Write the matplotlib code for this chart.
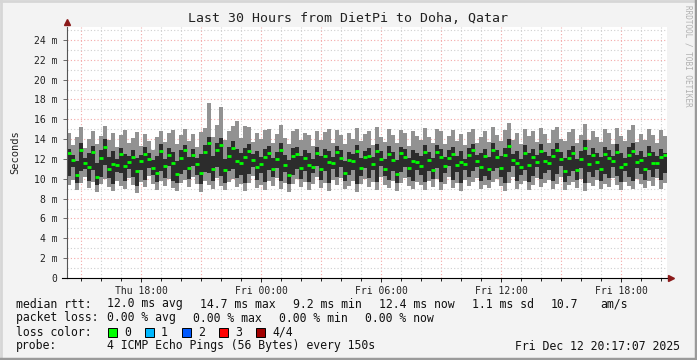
import matplotlib
matplotlib.use("Agg")
import matplotlib.pyplot as plt
from matplotlib.patches import Rectangle

# SmokePing: 30 h window, one column per 12 min, values in ms
t_start = 14 + 17 / 60 + 7 / 3600  # Thu 14:17:07, hours since Thu 00:00
step_h = 0.2

rtt_max = [
    14.6, 13.4, 14.2, 15.2, 13.1, 14.0, 14.8, 13.5, 14.3, 15.3, 13.9, 14.6, 13.2, 14.4, 14.9,
    13.6, 14.1, 14.7, 13.3, 14.5, 13.8, 12.9, 14.2, 14.8, 13.7, 14.6, 14.9, 13.5, 14.4, 15.0,
    13.8, 14.5, 13.2, 14.7, 15.1, 17.6, 14.2, 15.4, 17.2, 13.9, 14.8, 15.3, 15.8, 14.1, 15.3,
    15.2, 13.7, 14.6, 14.0, 14.9, 15.0, 13.6, 14.5, 15.4, 14.1, 13.5, 14.8, 15.0, 13.9, 14.6,
    14.4, 13.3, 14.8, 13.9, 14.7, 15.0, 13.6, 14.9, 14.4, 13.5, 14.6, 14.0, 15.1, 13.8, 14.5,
    14.8, 13.4, 15.2, 14.2, 13.7, 15.0, 14.4, 13.6, 14.9, 14.6, 13.3, 14.8, 14.3, 13.9, 15.1,
    14.2, 13.6, 15.0, 14.8, 13.5, 14.3, 14.9, 13.8, 14.5, 13.4, 14.7, 15.0, 13.6, 14.2, 14.8,
    13.7, 15.2, 14.4, 13.8, 14.9, 15.6, 13.9, 14.6, 13.5, 15.0, 14.3, 14.8, 13.7, 15.1, 14.5,
    13.6, 14.9, 15.2, 14.0, 13.8, 14.7, 15.0, 13.6, 14.4, 15.5, 13.9, 14.8, 14.2, 13.7, 15.0,
    14.6, 13.5, 15.1, 14.3, 13.8, 14.9, 15.4, 13.7, 14.5, 13.9, 15.0, 14.4, 13.6, 14.9, 14.3,
]
rtt_min = [
    9.4, 9.9, 8.9, 9.6, 10.2, 9.1, 9.7, 8.7, 9.5, 10.0, 9.2, 8.8, 9.8, 9.3, 9.0,
    10.1, 9.4, 8.6, 9.7, 9.2, 10.3, 9.5, 8.9, 9.8, 9.3, 10.0, 9.1, 8.8, 9.6, 9.9,
    9.2, 10.2, 9.5, 8.7, 9.8, 9.4, 9.0, 10.1, 9.3, 8.9, 9.7, 10.0, 9.2, 9.5, 8.8,
    9.6, 10.3, 9.1, 9.4, 8.9, 9.8, 9.3, 10.1, 9.0, 9.6, 8.7, 9.5, 10.0, 9.2, 9.7,
    8.9, 9.5, 10.2, 9.1, 9.6, 8.8, 9.9, 9.4, 10.1, 9.0, 9.3, 9.8, 8.7, 9.5, 10.0,
    9.2, 9.7, 8.9, 10.2, 9.4, 9.1, 9.8, 8.8, 9.6, 10.1, 9.3, 9.0, 9.7, 9.4, 8.9,
    9.8, 9.2, 10.0, 8.9, 9.5, 10.2, 9.1, 9.6, 8.8, 9.9, 9.3, 9.7, 10.1, 9.0, 9.4,
    9.1, 9.7, 10.0, 9.3, 8.8, 9.6, 10.2, 9.0, 9.5, 9.8, 8.9, 9.4, 10.1, 9.2, 9.6,
    9.9, 9.0, 9.5, 10.2, 8.9, 9.4, 9.7, 9.1, 10.0, 8.8, 9.6, 9.3, 9.9, 9.0, 9.5,
    9.2, 10.1, 9.4, 8.9, 9.7, 9.3, 9.0, 10.0, 9.5, 9.1, 9.8, 9.3, 10.1, 9.0, 9.6,
]
# inner smoke band (2nd and 3rd ping)
rtt_lo = [
    10.3, 11.2, 9.6, 10.8, 11.0, 9.8, 10.9, 9.4, 10.2, 11.4, 10.1, 9.5, 10.7, 10.6, 9.8,
    11.0, 10.2, 9.3, 10.9, 9.9, 11.1, 10.4, 9.7, 10.8, 10.1, 11.3, 9.8, 9.6, 10.5, 10.9,
    10.0, 11.3, 10.4, 9.5, 10.7, 10.6, 9.8, 11.2, 10.3, 9.6, 10.8, 11.0, 10.1, 10.4, 9.6,
    10.5, 11.2, 9.9, 10.6, 9.7, 10.9, 10.2, 11.1, 9.8, 10.7, 9.5, 10.4, 11.0, 10.0, 10.8,
    9.7, 10.6, 11.3, 9.9, 10.8, 9.6, 11.0, 10.2, 11.2, 9.8, 10.4, 10.9, 9.5, 10.3, 11.1,
    10.1, 10.9, 9.7, 11.3, 10.3, 9.9, 10.8, 9.6, 10.7, 11.2, 10.2, 9.8, 10.9, 10.4, 9.7,
    10.8, 10.0, 11.1, 9.7, 10.6, 11.3, 9.9, 10.7, 9.6, 10.9, 10.2, 10.8, 11.2, 9.8, 10.3,
    9.9, 10.8, 11.1, 10.2, 9.6, 10.7, 11.3, 9.8, 10.4, 10.9, 9.7, 10.3, 11.2, 10.0, 10.6,
    10.9, 9.8, 10.5, 11.3, 9.7, 10.3, 10.8, 9.9, 11.1, 9.6, 10.7, 10.2, 10.9, 9.8, 10.5,
    10.1, 11.2, 10.3, 9.7, 10.8, 10.2, 9.8, 11.1, 10.5, 9.9, 10.9, 10.2, 11.0, 9.9, 10.6,
]
rtt_hi = [
    13.0, 12.4, 11.8, 13.6, 12.1, 12.6, 13.3, 11.6, 12.9, 14.0, 12.2, 12.8, 12.0, 13.1, 12.5,
    12.3, 12.9, 12.1, 12.4, 13.2, 12.6, 11.9, 12.3, 13.5, 12.0, 13.1, 12.7, 11.8, 12.9, 13.4,
    12.2, 13.0, 12.1, 12.5, 13.4, 14.2, 12.3, 13.6, 14.1, 12.0, 13.2, 13.8, 13.0, 12.6, 13.1,
    13.5, 12.5, 12.8, 12.2, 13.0, 13.3, 12.1, 12.7, 13.6, 12.4, 11.9, 13.1, 13.2, 12.3, 12.9,
    12.6, 12.0, 13.2, 12.3, 13.0, 12.8, 12.2, 13.3, 12.9, 11.8, 12.7, 12.5, 13.4, 12.1, 12.8,
    13.1, 12.2, 13.5, 12.8, 12.0, 13.3, 12.7, 11.9, 13.2, 13.0, 12.1, 12.9, 12.6, 12.3, 13.4,
    12.7, 12.1, 13.4, 13.0, 12.2, 12.9, 13.2, 12.3, 12.8, 12.0, 13.1, 13.5, 12.4, 12.6, 13.0,
    12.2, 13.6, 12.9, 12.3, 13.1, 14.0, 12.5, 12.8, 12.0, 13.4, 12.6, 13.0, 12.4, 13.5, 12.7,
    12.3, 13.0, 13.6, 12.7, 12.1, 12.9, 13.3, 12.0, 12.8, 13.9, 12.4, 13.1, 12.6, 12.2, 13.2,
    12.9, 12.3, 13.5, 12.6, 12.1, 13.2, 13.6, 12.4, 12.8, 12.2, 13.3, 12.7, 12.3, 13.0, 12.6,
]
rtt_median = [
    12.6, 11.9, 10.4, 12.9, 11.6, 11.2, 12.7, 10.2, 12.1, 13.2, 11.0, 11.5, 11.4, 12.5, 11.3,
    11.7, 12.2, 10.8, 11.8, 12.5, 12.0, 11.1, 10.6, 12.8, 11.3, 12.4, 11.6, 10.5, 12.1, 12.9,
    11.1, 12.4, 11.5, 10.6, 12.7, 13.6, 11.0, 12.9, 13.4, 10.9, 12.3, 13.1, 11.8, 11.6, 12.2,
    12.8, 11.9, 11.2, 11.5, 12.2, 12.6, 11.0, 12.0, 12.9, 11.4, 10.4, 12.3, 12.5, 11.1, 12.1,
    11.4, 11.2, 12.6, 11.0, 12.3, 11.7, 11.6, 12.7, 12.1, 10.6, 11.9, 11.8, 12.8, 11.1, 12.2,
    12.3, 11.5, 12.8, 12.0, 11.0, 12.5, 11.9, 10.5, 12.6, 12.2, 11.1, 11.8, 11.7, 11.3, 12.7,
    11.9, 10.9, 12.7, 12.2, 11.3, 12.1, 12.5, 11.4, 11.7, 11.5, 12.4, 12.9, 11.8, 11.2, 12.3,
    11.0, 12.9, 12.2, 11.1, 12.4, 13.3, 11.9, 11.6, 11.2, 12.6, 11.4, 12.2, 11.7, 12.8, 11.8,
    11.6, 12.3, 12.9, 12.0, 10.8, 12.1, 12.6, 10.9, 12.0, 13.1, 11.5, 12.4, 11.7, 11.0, 12.5,
    12.1, 11.8, 12.7, 11.2, 11.5, 12.4, 12.8, 11.7, 11.9, 11.0, 12.5, 11.6, 11.6, 12.2, 12.4,
]

y_ticks = [0, 2, 4, 6, 8, 10, 12, 14, 16, 18, 20, 22, 24]
y_labels = ["0"] + [f"{v} m" for v in y_ticks[1:]]
x_ticks = [18, 24, 30, 36, 42]
x_labels = ["Thu 18:00", "Fri 00:00", "Fri 06:00", "Fri 12:00", "Fri 18:00"]

loss_names = ["0", "1", "2", "3", "4/4"]
loss_colors = ["#00ff00", "#00b8ff", "#0059ff", "#ff0000", "#a10000"]

MONO = "DejaVu Sans Mono"
W, H = 697, 360

fig = plt.figure(figsize=(W / 100, H / 100), dpi=100, facecolor="#f3f3f3")
ax = fig.add_axes([67 / W, (H - 278) / H, 600 / W, 251 / H])
ax.set_facecolor("white")

x_left = [t_start + i * step_h for i in range(len(rtt_max))]
ax.bar(x_left, [a - b for a, b in zip(rtt_max, rtt_min)], bottom=rtt_min,
       width=step_h, align="edge", color="#929292", linewidth=0, zorder=2)
ax.bar(x_left, [a - b for a, b in zip(rtt_hi, rtt_lo)], bottom=rtt_lo,
       width=step_h, align="edge", color="#2c2c2c", linewidth=0, zorder=3)
ax.hlines(rtt_median, [x + 0.02 for x in x_left], [x + step_h - 0.02 for x in x_left],
          color="#00ff00", linewidth=2.0, zorder=4)

ax.set_xlim(t_start, t_start + 30)
ax.set_ylim(0, 25.3)

# grid: grey dotted minor, red dotted major
dots = (0, (1, 2))
for h in range(15, 45):
    c = "#f4a8a8" if h % 3 == 0 else "#cfcfcf"
    ax.axvline(h, color=c, linewidth=0.8, linestyle=dots, zorder=1)
for v in range(1, 26):
    c = "#f4a8a8" if v % 2 == 0 else "#cfcfcf"
    ax.axhline(v, color=c, linewidth=0.8, linestyle=dots, zorder=1)

for s in ["top", "right"]:
    ax.spines[s].set_visible(False)
ax.spines["left"].set_color("#555555")
ax.spines["bottom"].set_color("black")
ax.spines["left"].set_zorder(6)
ax.spines["bottom"].set_zorder(6)

ax.set_yticks(y_ticks)
ax.set_yticklabels(y_labels, fontfamily=MONO, fontsize=7, color="#222222")
ax.set_xticks(x_ticks)
ax.set_xticklabels(x_labels, fontfamily=MONO, fontsize=7, color="#222222")
ax.set_xticks(range(15, 45), minor=True)
ax.tick_params(axis="y", length=3, width=0.6, pad=4, color="#555555")
ax.tick_params(axis="x", which="major", length=3, width=0.6, pad=3)
ax.tick_params(axis="x", which="minor", length=2, width=0.6)
ax.set_ylabel("Seconds", fontfamily=MONO, fontsize=7.5, color="#222222", labelpad=10)

# axis arrows
ax.plot([0], [1.02], marker="^", markersize=4, color="#8b1a1a", transform=ax.transAxes,
        clip_on=False, zorder=7)
ax.plot([1.007], [0], marker=">", markersize=4, color="#8b1a1a", transform=ax.transAxes,
        clip_on=False, zorder=7)
ax.plot([-0.008, 0], [0, 0], color="black", linewidth=0.8, transform=ax.transAxes,
        clip_on=False)

fig.text(348 / W, 1 - 19 / H, "Last 30 Hours from DietPi to Doha, Qatar", ha="center",
         va="center", fontfamily=MONO, fontsize=9.5, color="#222222")
fig.text(688 / W, 1 - 5 / H, "RRDTOOL / TOBI OETIKER", rotation=270, ha="center", va="top",
         fontfamily=MONO, fontsize=5.5, color="#b0b0b0")


def put(x, y, s, **kw):
    fig.text(x / W, 1 - y / H, s, va="center", fontfamily=MONO, fontsize=8.3,
             color="#111111", **kw)


put(16, 304, "median rtt:")
for x, s in [(107, "12.0 ms avg"), (200, "14.7 ms max"), (293, "9.2 ms min"),
             (379, "12.4 ms now"), (472, "1.1 ms sd"), (551, "10.7"), (600, "am/s")]:
    put(x, 304, s)
put(16, 318, "packet loss:")
for x, s in [(107, "0.00 % avg"), (193, "0.00 % max"), (279, "0.00 % min"),
             (365, "0.00 % now")]:
    put(x, 318, s)
put(16, 332, "loss color:")
for i, (name, col) in enumerate(zip(loss_names, loss_colors)):
    bx = 108 + i * 37
    fig.patches.append(Rectangle((bx / W, 1 - 337 / H), 9 / W, 9 / H, facecolor=col,
                                 edgecolor="black", linewidth=0.7,
                                 transform=fig.transFigure, figure=fig))
    put(bx + 16, 332, name)
put(16, 346, "probe:")
put(107, 346, "4 ICMP Echo Pings (56 Bytes) every 150s")
put(680, 346, "Fri Dec 12 20:17:07 2025", ha="right")

# image border
fig.add_artist(plt.Line2D([0, 1], [1 - 1 / H, 1 - 1 / H], color="#d6d6d6", linewidth=2,
                          transform=fig.transFigure))
fig.add_artist(plt.Line2D([1 / W, 1 / W], [0, 1], color="#d6d6d6", linewidth=2,
                          transform=fig.transFigure))
fig.add_artist(plt.Line2D([0, 1], [1.5 / H, 1.5 / H], color="#9a9a9a", linewidth=2.5,
                          transform=fig.transFigure))
fig.add_artist(plt.Line2D([1 - 1.5 / W, 1 - 1.5 / W], [0, 1], color="#9a9a9a",
                          linewidth=2.5, transform=fig.transFigure))

fig.savefig("out.png", dpi=100, facecolor=fig.get_facecolor())
